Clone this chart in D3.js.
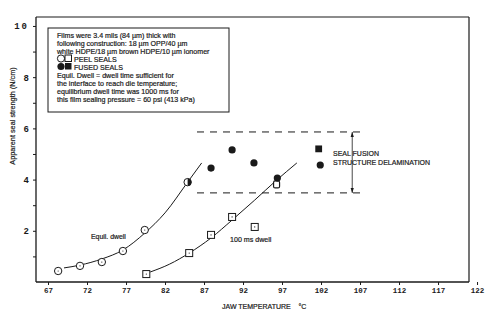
<!DOCTYPE html>
<html><head><meta charset="utf-8">
<script src="https://cdn.jsdelivr.net/npm/d3@7"></script>
<style>body{margin:0;background:#fff}svg{display:block}</style>
</head><body><svg id="c" width="487" height="329"></svg>
<script>
const xTicks=[67,72,77,82,87,92,97,102,107,112,117,122];
const yTicks=[1,2,3,4,5,6,7,8,9,10];
const yTickLabels=["","2","","4","","6","","8","","10"];
const equilPeelX=[68.3,71.1,73.9,76.6,79.4];
const equilPeelY=[0.43,0.63,0.78,1.21,2.03];
const equilTransX=[84.9], equilTransY=[3.9];
const ms100PeelX=[79.6,85.1,87.9,90.6,93.5];
const ms100PeelY=[0.31,1.13,1.84,2.54,2.15];
const ms100TransX=[96.3], ms100TransY=[3.83];
const fusedCircleX=[87.9,90.6,93.4,96.4,101.9];
const fusedCircleY=[4.45,5.16,4.65,4.06,4.57];
const fusedSquareX=[101.7], fusedSquareY=[5.2];
const equilCurveX=[69.05,71.1,73.9,76.6,79.4,82.0,84.9,86.7];
const equilCurveY=[0.55,0.66,0.90,1.25,1.91,2.70,3.9,4.65];
const ms100CurveX=[80.1,82.6,85.1,87.9,90.6,93.5,96.2,98.9];
const ms100CurveY=[0.39,0.70,1.13,1.72,2.42,3.20,3.95,4.65];
const bandY=[5.86,3.48], bandX=[86.1,107.6], arrowX=106;
const noteLines=["Films were 3.4 mils (84 µm) thick with","following construction: 18 µm OPP/40 µm","white HDPE/18 µm brown HDPE/10 µm ionomer"];
const legendLabels=["PEEL SEALS","FUSED SEALS"];
const noteLines2=["Equil. Dwell = dwell time sufficient for","the interface to reach die temperature;","equilibrium dwell time was 1000 ms for","this film sealing pressure = 60 psi (413 kPa)"];

const svg=d3.select("#c");
const ink="#1a1a1a";
const x=d3.scaleLinear().domain([65.46,120.97]).range([36,469]);
const y=d3.scaleLinear().domain([0,10.35]).range([282,17]);

// frame
svg.append("line").attr("x1",x(65.46)).attr("x2",x(120.97)).attr("y1",y(10.35)).attr("y2",y(10.35)).attr("stroke",ink).attr("stroke-width",1.2);
svg.append("line").attr("x1",x(120.97)).attr("x2",x(120.97)).attr("y1",y(10.35)).attr("y2",y(0)).attr("stroke",ink).attr("stroke-width",1.2);

const xa=svg.append("g").attr("transform","translate(0,282)")
  .call(d3.axisBottom(x).tickValues(xTicks).tickSize(3).tickPadding(3).tickSizeOuter(0));
xa.select(".domain").attr("d","M36,0H469").attr("stroke",ink).attr("stroke-width",1.3);
xa.selectAll("line").attr("stroke",ink);
xa.selectAll("text").attr("font-family","Liberation Mono").attr("font-weight","bold").attr("font-size","7.5px").attr("fill",ink);

const ya=svg.append("g").attr("transform","translate(36,0)")
  .call(d3.axisLeft(y).tickValues(yTicks).tickSize(3).tickPadding(4).tickSizeOuter(0).tickFormat((d,i)=>yTickLabels[i]));
ya.select(".domain").attr("d","M0,17V282").attr("stroke",ink).attr("stroke-width",1.3);
ya.selectAll("line").attr("stroke",ink);
ya.selectAll("text").attr("font-family","Liberation Mono").attr("font-weight","bold").attr("font-size","9px").attr("fill",ink);
ya.selectAll("text").filter(d=>d===10).attr("letter-spacing","2px");

const tf=(sel,fs)=>sel.attr("font-family","Liberation Sans").attr("font-size",fs).attr("fill",ink).attr("stroke",ink).attr("stroke-width",0.2);

// axis titles
tf(svg.append("text").attr("transform","translate(15,116) rotate(-90)").attr("text-anchor","middle"),"7.3px").text("Apparent seal strength (N/cm)");
tf(svg.append("text").attr("x",222).attr("y",309).attr("xml:space","preserve"),"7px").text("JAW TEMPERATURE    °C");

// curves
const line=d3.line().x(d=>x(d[0])).y(d=>y(d[1])).curve(d3.curveMonotoneX);
svg.append("path").attr("d",line(equilCurveX.map((v,i)=>[v,equilCurveY[i]]))).attr("fill","none").attr("stroke",ink).attr("stroke-width",1);
svg.append("path").attr("d",line(ms100CurveX.map((v,i)=>[v,ms100CurveY[i]]))).attr("fill","none").attr("stroke",ink).attr("stroke-width",1);

// dashed band
bandY.forEach(v=>{
  svg.append("line").attr("x1",x(bandX[0])).attr("x2",x(bandX[1])).attr("y1",y(v)).attr("y2",y(v))
    .attr("stroke",ink).attr("stroke-width",1).attr("stroke-dasharray","7,6");
});
svg.append("line").attr("x1",x(arrowX)).attr("x2",x(arrowX)).attr("y1",y(bandY[0])).attr("y2",y(bandY[1])).attr("stroke",ink).attr("stroke-width",0.8);
[[bandY[0],1],[bandY[1],-1]].forEach(([v,s])=>{
  const ax=x(arrowX), ay=y(v);
  svg.append("path").attr("d",`M${ax},${ay}L${ax-1.6},${ay+s*5}L${ax+1.6},${ay+s*5}Z`).attr("fill",ink);
});
tf(svg.append("text").attr("x",333).attr("y",155.5),"7px").text("SEAL FUSION");
tf(svg.append("text").attr("x",333).attr("y",164.5),"7px").text("STRUCTURE DELAMINATION");

// curve labels
tf(svg.append("text").attr("x",91).attr("y",238.5),"6.9px").text("Equil. dwell");
tf(svg.append("text").attr("x",230).attr("y",241.5),"7.1px").text("100 ms dwell");

// markers
function openCircle(cx,cy){
  svg.append("circle").attr("cx",cx).attr("cy",cy).attr("r",3.7).attr("fill","#fff").attr("stroke",ink).attr("stroke-width",1);
  svg.append("circle").attr("cx",cx).attr("cy",cy).attr("r",0.6).attr("fill",ink);
}
function openSquare(cx,cy){
  svg.append("rect").attr("x",cx-3.5).attr("y",cy-3.5).attr("width",7).attr("height",7).attr("fill","#fff").attr("stroke",ink).attr("stroke-width",1);
  svg.append("circle").attr("cx",cx).attr("cy",cy).attr("r",0.6).attr("fill",ink);
}
equilPeelX.forEach((v,i)=>openCircle(x(v),y(equilPeelY[i])));
ms100PeelX.forEach((v,i)=>openSquare(x(v),y(ms100PeelY[i])));
equilTransX.forEach((v,i)=>{
  const cx=x(v), cy=y(equilTransY[i]);
  svg.append("circle").attr("cx",cx).attr("cy",cy).attr("r",3.7).attr("fill","#fff").attr("stroke",ink);
  svg.append("path").attr("d",`M${cx},${cy-3.7}A3.7,3.7 0 0 1 ${cx},${cy+3.7}Z`).attr("fill",ink);
});
ms100TransX.forEach((v,i)=>{
  const cx=x(v), cy=y(ms100TransY[i]);
  svg.append("rect").attr("x",cx-3).attr("y",cy-3).attr("width",6).attr("height",7).attr("rx",1.5).attr("fill","#fff").attr("stroke",ink).attr("stroke-width",1.2);
});
fusedCircleX.forEach((v,i)=>svg.append("circle").attr("cx",x(v)).attr("cy",y(fusedCircleY[i])).attr("r",3.6).attr("fill",ink));
fusedSquareX.forEach((v,i)=>svg.append("rect").attr("x",x(v)-3.4).attr("y",y(fusedSquareY[i])-3.4).attr("width",6.8).attr("height",6.8).attr("fill",ink));

// note / legend box
svg.append("rect").attr("x",48).attr("y",28).attr("width",181).attr("height",84).attr("fill","#fff").attr("stroke",ink).attr("stroke-width",1);
noteLines.forEach((t,i)=>tf(svg.append("text").attr("x",57).attr("y",37.5+i*8.1),"7.1px").text(t));
legendLabels.forEach((t,i)=>tf(svg.append("text").attr("x",74).attr("y",61.5+i*8.1),"7.1px").text(t));
noteLines2.forEach((t,i)=>tf(svg.append("text").attr("x",57).attr("y",77.8+i*8.1),"7.1px").text(t));
// legend symbols
svg.append("circle").attr("cx",61).attr("cy",58.5).attr("r",3.6).attr("fill","#fff").attr("stroke",ink).attr("stroke-width",1);
svg.append("rect").attr("x",65).attr("y",55).attr("width",6.5).attr("height",6.5).attr("fill","#fff").attr("stroke",ink).attr("stroke-width",1);
svg.append("circle").attr("cx",61).attr("cy",66.5).attr("r",3.6).attr("fill",ink);
svg.append("rect").attr("x",65).attr("y",63).attr("width",6.5).attr("height",6.5).attr("fill",ink);
</script></body></html>
